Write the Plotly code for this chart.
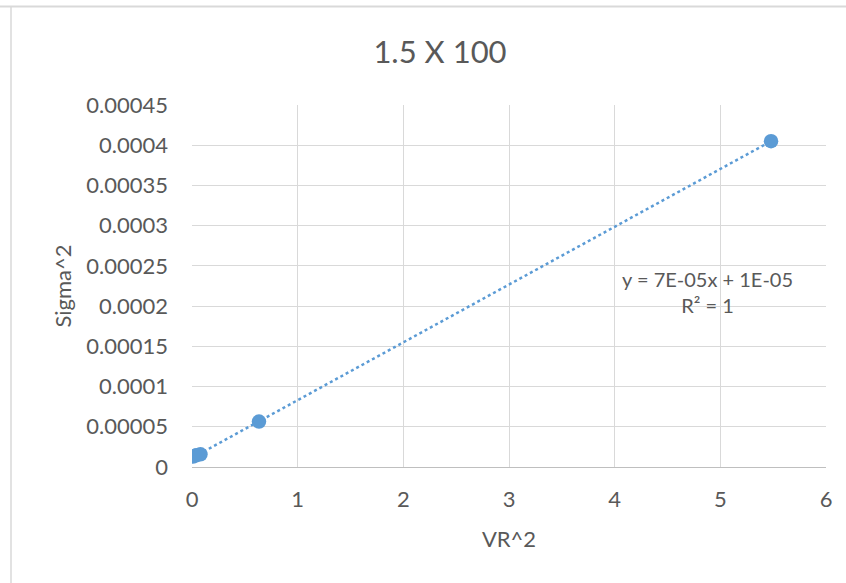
import numpy as np
import plotly.graph_objects as go

# Data
vr2 = [0.01, 0.04, 0.08, 0.634, 5.48]
sigma2 = [0.0000130, 0.0000145, 0.0000158, 0.0000565, 0.000405]

title_text = "1.5 X 100"
x_title = "VR^2"
y_title = "Sigma^2"
x_ticks = [0, 1, 2, 3, 4, 5, 6]
y_tickvals = [0, 0.00005, 0.0001, 0.00015, 0.0002, 0.00025, 0.0003, 0.00035, 0.0004, 0.00045]
y_ticktext = ["0", "0.00005", "0.0001", "0.00015", "0.0002", "0.00025", "0.0003", "0.00035", "0.0004", "0.00045"]
eq_text = "y = 7E-05x + 1E-05<br>R² = 1"

# Linear trendline computed from the data
slope, intercept = np.polyfit(vr2, sigma2, 1)
tx = np.array([min(vr2), max(vr2)])
ty = slope * tx + intercept

BLUE = "#5B9BD5"
FONT = "Lato"
TXT = "#595959"

fig = go.Figure()
fig.add_trace(go.Scatter(x=tx, y=ty, mode="lines",
                         line=dict(color=BLUE, width=2.5, dash="dot"),
                         hoverinfo="skip", showlegend=False))
fig.add_trace(go.Scatter(x=vr2, y=sigma2, mode="markers",
                         marker=dict(color=BLUE, size=14.5),
                         showlegend=False))

fig.update_layout(
    width=846, height=583,
    margin=dict(l=192, r=20, t=105, b=116),
    paper_bgcolor="white", plot_bgcolor="white",
    font=dict(family=FONT, size=22, color=TXT),
    title=dict(text=title_text, x=(440 - 192) / 634, xref="paper", xanchor="center",
               y=1 - 52 / 583, yanchor="middle",
               font=dict(family=FONT, size=31, color=TXT)),
    xaxis=dict(range=[0, 6], tickvals=x_ticks, showgrid=True, gridcolor="#d9d9d9",
               gridwidth=1, zeroline=False, showline=True, linecolor="#bfbfbf",
               linewidth=1, ticks="", ticklabelstandoff=13,
               tickfont=dict(size=22, color=TXT),
               title=dict(text=x_title, standoff=20, font=dict(size=22, color=TXT))),
    yaxis=dict(range=[0, 0.00045], tickvals=y_tickvals, ticktext=y_ticktext,
               showgrid=True, gridcolor="#d9d9d9", gridwidth=1, zeroline=False,
               showline=False, ticks="", ticklabelstandoff=23,
               tickfont=dict(size=22, color=TXT),
               title=dict(text=y_title, standoff=8, font=dict(size=22, color=TXT))),
    annotations=[dict(x=4.88, y=0.000217, xref="x", yref="y", text=eq_text,
                      showarrow=False, align="center",
                      font=dict(family=FONT, size=20, color=TXT))],
    shapes=[
        dict(type="line", xref="paper", yref="paper",
             x0=(0 - 192) / 634, x1=(846 - 192) / 634,
             y0=(467 - 6.5) / 362, y1=(467 - 6.5) / 362,
             line=dict(color="#d9d9d9", width=2)),
        dict(type="line", xref="paper", yref="paper",
             x0=(11 - 192) / 634, x1=(11 - 192) / 634,
             y0=(467 - 7) / 362, y1=(467 - 583) / 362,
             line=dict(color="#d9d9d9", width=1.5)),
    ],
)

fig.write_html("out.html", config={"displayModeBar": False},
               post_script="document.body.style.margin='0px';document.body.style.overflow='hidden';")
